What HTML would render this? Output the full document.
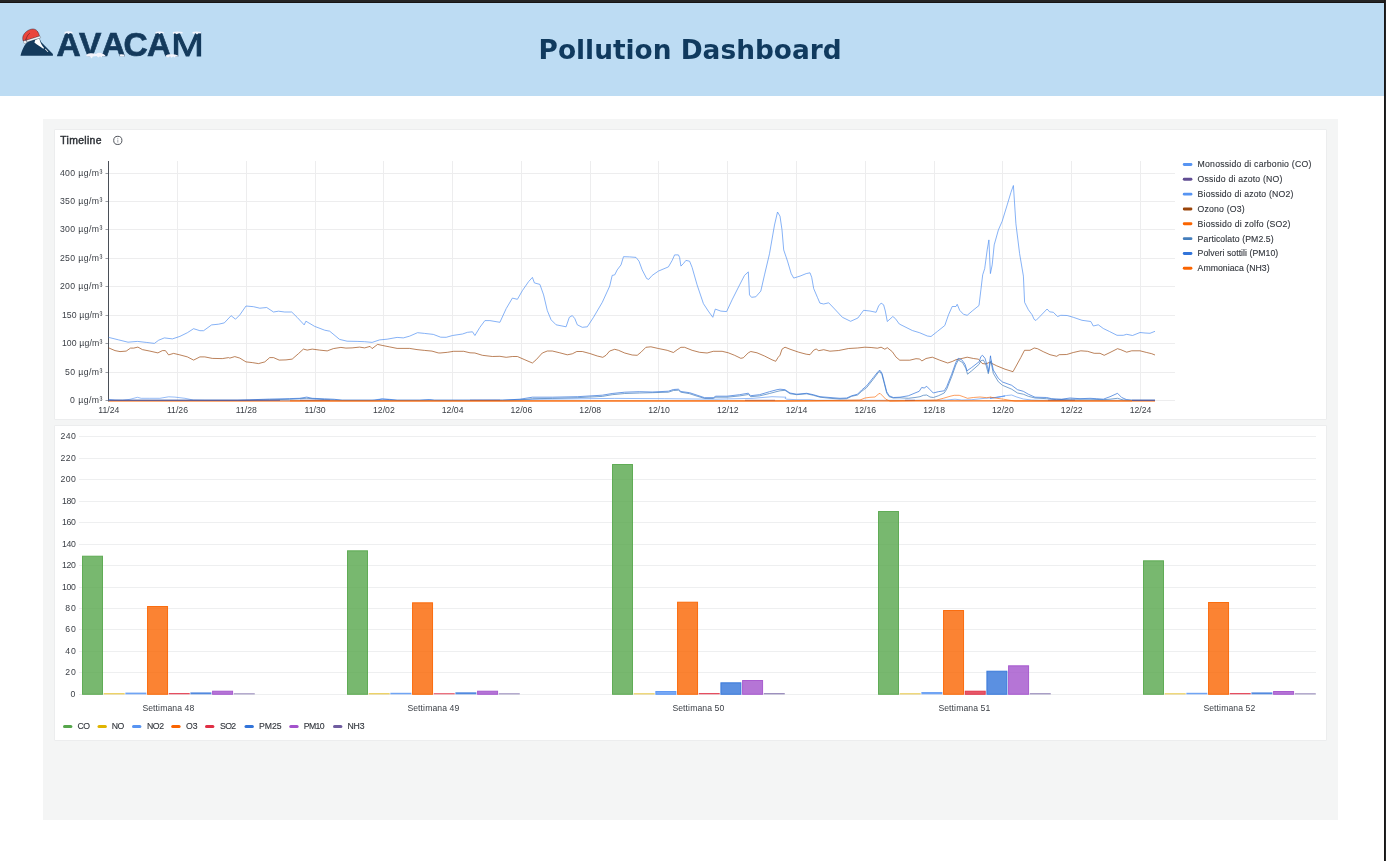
<!DOCTYPE html>
<html lang="it">
<head>
<meta charset="utf-8">
<title>Pollution Dashboard</title>
<style>
html,body{margin:0;padding:0;}
body{width:1386px;height:861px;overflow:hidden;background:#fff;position:relative;font-family:"Liberation Sans",sans-serif;}
.topbar{position:absolute;left:0;top:0;width:1386px;height:3px;background:#242424;border-bottom:1px solid #161414;box-sizing:border-box;}
.rightbar{position:absolute;left:1384px;top:0;width:2px;height:861px;background:#242424;border-left:1px solid #171515;box-sizing:border-box;}
.header{position:absolute;left:0;top:3px;width:1384px;height:93px;background:#bddcf3;}
.title{position:absolute;left:538.6px;top:31px;font-family:"DejaVu Sans",sans-serif;font-weight:bold;font-size:26.4px;line-height:32px;color:#103a5e;white-space:nowrap;}
.logo{position:absolute;left:0;top:0;}
.canvas{position:absolute;left:43px;top:119px;width:1295px;height:701px;background:#f4f5f5;}
.panel{position:absolute;background:#fff;border:1px solid #ecedee;box-sizing:border-box;border-radius:1px;}
#p1{left:54px;top:129px;width:1273px;height:291px;}
#p2{left:54px;top:425px;width:1273px;height:316px;}
.ptitle{position:absolute;left:60.3px;top:134px;font-size:10.4px;line-height:14px;font-weight:normal;color:#2b2f35;letter-spacing:0.33px;-webkit-text-stroke:0.42px #2b2f35;}
svg{position:absolute;left:0;top:0;}
#charts text{font-family:"Liberation Sans",sans-serif;fill:#3c4047;}
#charts .ay{font-size:8.7px;}
#charts .ad{font-size:8.7px;letter-spacing:0px;}
#charts .by{font-size:8.7px;}
#charts .bx{font-size:8.65px;letter-spacing:0.1px;}
#charts .lg{font-size:8.7px;fill:#32363d;stroke:#32363d;stroke-width:0.12px;}
</style>
</head>
<body>
<div class="header">
  <div class="title">Pollution Dashboard</div>
</div>
<div class="topbar"></div>
<div class="rightbar"></div>
<svg class="logo" width="230" height="70" viewBox="0 0 230 70">
<g id="mountain">
<path d="M20.5 55.7 C21.2 52.6 22.6 48.9 24.4 45.8 C25.4 44.2 26.6 42.8 28.0 41.8 L33.0 39.8 L39.6 38.6 L41.1 42.0 L52.9 53.9 L52.9 55.7 Z" fill="#143a5c"/>
<path d="M34.4 42.4 L35.4 39.8 L39.4 38.4 C40.0 42.4 41.8 45.2 44.1 47.9 L43.3 48.7 C40.6 46.8 37.2 44.6 34.4 42.4 Z" fill="#ffffff"/>
<path d="M44.8 49.0 L45.7 48.8 L48.3 51.7 L47.6 52.0 Z" fill="#ffffff"/>
</g>
<g id="hat">
<path d="M23.2 41.0 C22.6 39.4 22.6 37.6 23.0 36.2 C23.6 34.4 24.8 32.8 26.6 31.4 C28.4 30.0 30.6 29.1 32.6 29.0 C34.4 28.9 36.0 29.6 37.2 31.0 C38.4 32.4 39.1 34.2 39.5 36.2 L26.6 40.4 Z" fill="#ea453b" stroke="#2a1a2a" stroke-width="0.45"/>
<path d="M29.9 33.1 C28.0 34.4 26.6 36.6 26.0 39.8" fill="none" stroke="#4a1a28" stroke-width="0.55"/>
<path d="M25.6 38.2 L26.4 40.2 L25.6 40.6 Z" fill="#143a5c"/>
<path d="M26.7 40.2 L40.1 36.1 L40.7 37.8 L26.8 42.0 Z" fill="#ffffff" stroke="#1f2a3a" stroke-width="0.3" stroke-linejoin="round"/>
<circle cx="25.0" cy="42.0" r="1.5" fill="#ffffff" stroke="#1f2a3a" stroke-width="0.3"/>
</g>
<g id="word" font-family="'Liberation Sans', sans-serif" font-weight="bold" font-size="33.5" fill="#143a5c" stroke="#143a5c" stroke-width="0.7" stroke-linejoin="miter">
<text x="56.4" y="55.7">A</text>
<text x="79.1" y="55.7">V</text>
<text x="101.2" y="55.7">A</text>
<text x="123.5" y="55.7">C</text>
<text x="147.0" y="55.7">A</text>
<text transform="translate(171.2 55.7) scale(1.165 1)" x="0" y="0" font-weight="normal" stroke-width="1.0">M</text>
</g>
<g id="snow" fill="#f4f4fb">
<path d="M64.5 32.0 Q68.4 30.6 72.5 32.0 L72.3 33.7 L70.0 33.0 L68.6 34.2 L67.0 33.0 L64.8 33.9 Z"/>
<path d="M86.0 55.2 Q88.0 52.8 91.0 53.2 Q93.5 53.0 96.0 54.0 Q98.0 52.4 100.6 53.0 Q103.6 53.6 105.6 55.4 L104.0 56.4 L102.6 56.0 L101.4 57.6 L100.2 56.2 L98.2 57.4 L96.6 56.0 L93.0 56.4 L91.6 58.6 L90.0 56.4 L87.4 56.6 Z"/>
<path d="M110.4 45.0 L115.4 45.0 L115.0 45.8 L112.8 45.6 L112.4 46.2 L111.6 45.6 L110.6 45.7 Z" opacity="0.8"/>
<path d="M119.4 54.6 Q122.0 54.0 124.4 54.8 L124.6 56.2 Q122.0 57.0 119.8 56.2 Z"/>
<path d="M155.4 32.0 Q159.6 30.8 163.7 32.0 L163.5 33.6 L161.0 33.0 L159.6 34.2 L158.0 33.0 L155.8 33.8 Z"/>
<path d="M172.8 32.0 Q177.6 30.8 182.6 32.0 L182.4 33.6 L179.0 33.2 L176.6 34.2 L175.0 33.2 L173.0 34.0 Z"/>
<path d="M192.4 32.0 Q196.6 30.8 201.0 32.0 L200.8 33.6 L198.6 33.2 L197.0 34.6 L195.6 33.2 L192.8 33.8 Z"/>
<path d="M165.8 55.6 Q168.0 53.8 171.0 54.2 Q174.6 54.0 178.0 55.4 L177.6 56.8 L175.8 56.4 L174.6 57.6 L173.2 56.6 L171.6 57.8 L170.2 56.4 L168.0 57.4 L166.4 57.0 Z"/>
</g>
</svg>

<div class="canvas"></div>
<div class="panel" id="p1"></div>
<div class="panel" id="p2"></div>
<div class="ptitle">Timeline</div>
<svg id="charts" width="1386" height="861" viewBox="0 0 1386 861">
<g id="timeline">
<circle cx="117.8" cy="140.4" r="4.1" fill="none" stroke="#50545b" stroke-width="1"/>
<line x1="117.8" y1="139.6" x2="117.8" y2="142.6" stroke="#8a8e96" stroke-width="0.8"/>
<circle cx="117.8" cy="138.2" r="0.5" fill="#8a8e96"/>
<line x1="109" y1="400.5" x2="1175" y2="400.5" stroke="#ededee" stroke-width="1"/>
<line x1="105.5" y1="400.5" x2="108" y2="400.5" stroke="#9a9da3" stroke-width="1"/>
<text x="70.1" y="403.4" class="ay" textLength="32.2">0 µg/m³</text>
<line x1="109" y1="372.5" x2="1175" y2="372.5" stroke="#ededee" stroke-width="1"/>
<line x1="105.5" y1="372.5" x2="108" y2="372.5" stroke="#9a9da3" stroke-width="1"/>
<text x="65.0" y="375.4" class="ay" textLength="37.3">50 µg/m³</text>
<line x1="109" y1="343.5" x2="1175" y2="343.5" stroke="#ededee" stroke-width="1"/>
<line x1="105.5" y1="343.5" x2="108" y2="343.5" stroke="#9a9da3" stroke-width="1"/>
<text x="61.9" y="346.4" class="ay" textLength="40.4">100 µg/m³</text>
<line x1="109" y1="315.5" x2="1175" y2="315.5" stroke="#ededee" stroke-width="1"/>
<line x1="105.5" y1="315.5" x2="108" y2="315.5" stroke="#9a9da3" stroke-width="1"/>
<text x="61.9" y="318.4" class="ay" textLength="40.4">150 µg/m³</text>
<line x1="109" y1="286.5" x2="1175" y2="286.5" stroke="#ededee" stroke-width="1"/>
<line x1="105.5" y1="286.5" x2="108" y2="286.5" stroke="#9a9da3" stroke-width="1"/>
<text x="59.9" y="289.4" class="ay" textLength="42.4">200 µg/m³</text>
<line x1="109" y1="258.5" x2="1175" y2="258.5" stroke="#ededee" stroke-width="1"/>
<line x1="105.5" y1="258.5" x2="108" y2="258.5" stroke="#9a9da3" stroke-width="1"/>
<text x="59.9" y="261.4" class="ay" textLength="42.4">250 µg/m³</text>
<line x1="109" y1="229.5" x2="1175" y2="229.5" stroke="#ededee" stroke-width="1"/>
<line x1="105.5" y1="229.5" x2="108" y2="229.5" stroke="#9a9da3" stroke-width="1"/>
<text x="59.9" y="232.4" class="ay" textLength="42.4">300 µg/m³</text>
<line x1="109" y1="201.5" x2="1175" y2="201.5" stroke="#ededee" stroke-width="1"/>
<line x1="105.5" y1="201.5" x2="108" y2="201.5" stroke="#9a9da3" stroke-width="1"/>
<text x="59.9" y="204.4" class="ay" textLength="42.4">350 µg/m³</text>
<line x1="109" y1="173.5" x2="1175" y2="173.5" stroke="#ededee" stroke-width="1"/>
<line x1="105.5" y1="173.5" x2="108" y2="173.5" stroke="#9a9da3" stroke-width="1"/>
<text x="59.9" y="176.4" class="ay" textLength="42.4">400 µg/m³</text>
<text x="108.8" y="412.6" text-anchor="middle" class="ad">11/24</text>
<line x1="177.5" y1="161" x2="177.5" y2="401" stroke="#ededee" stroke-width="1"/>
<text x="177.5" y="412.6" text-anchor="middle" class="ad">11/26</text>
<line x1="246.5" y1="161" x2="246.5" y2="401" stroke="#ededee" stroke-width="1"/>
<text x="246.3" y="412.6" text-anchor="middle" class="ad">11/28</text>
<line x1="315.5" y1="161" x2="315.5" y2="401" stroke="#ededee" stroke-width="1"/>
<text x="315.1" y="412.6" text-anchor="middle" class="ad">11/30</text>
<line x1="383.5" y1="161" x2="383.5" y2="401" stroke="#ededee" stroke-width="1"/>
<text x="383.9" y="412.6" text-anchor="middle" class="ad">12/02</text>
<line x1="452.5" y1="161" x2="452.5" y2="401" stroke="#ededee" stroke-width="1"/>
<text x="452.6" y="412.6" text-anchor="middle" class="ad">12/04</text>
<line x1="521.5" y1="161" x2="521.5" y2="401" stroke="#ededee" stroke-width="1"/>
<text x="521.4" y="412.6" text-anchor="middle" class="ad">12/06</text>
<line x1="590.5" y1="161" x2="590.5" y2="401" stroke="#ededee" stroke-width="1"/>
<text x="590.2" y="412.6" text-anchor="middle" class="ad">12/08</text>
<line x1="658.5" y1="161" x2="658.5" y2="401" stroke="#ededee" stroke-width="1"/>
<text x="659.0" y="412.6" text-anchor="middle" class="ad">12/10</text>
<line x1="727.5" y1="161" x2="727.5" y2="401" stroke="#ededee" stroke-width="1"/>
<text x="727.8" y="412.6" text-anchor="middle" class="ad">12/12</text>
<line x1="796.5" y1="161" x2="796.5" y2="401" stroke="#ededee" stroke-width="1"/>
<text x="796.5" y="412.6" text-anchor="middle" class="ad">12/14</text>
<line x1="865.5" y1="161" x2="865.5" y2="401" stroke="#ededee" stroke-width="1"/>
<text x="865.3" y="412.6" text-anchor="middle" class="ad">12/16</text>
<line x1="934.5" y1="161" x2="934.5" y2="401" stroke="#ededee" stroke-width="1"/>
<text x="934.1" y="412.6" text-anchor="middle" class="ad">12/18</text>
<line x1="1002.5" y1="161" x2="1002.5" y2="401" stroke="#ededee" stroke-width="1"/>
<text x="1002.9" y="412.6" text-anchor="middle" class="ad">12/20</text>
<line x1="1071.5" y1="161" x2="1071.5" y2="401" stroke="#ededee" stroke-width="1"/>
<text x="1071.7" y="412.6" text-anchor="middle" class="ad">12/22</text>
<line x1="1140.5" y1="161" x2="1140.5" y2="401" stroke="#ededee" stroke-width="1"/>
<text x="1140.5" y="412.6" text-anchor="middle" class="ad">12/24</text>
<line x1="108.5" y1="161" x2="108.5" y2="401.5" stroke="#4a4f57" stroke-width="1"/>
<path d="M108.7 337.4 L118.7 339.9 L128.0 342.2 L137.4 341.4 L146.2 342.4 L154.4 343.4 L158.7 340.2 L164.4 337.9 L172.4 338.9 L179.9 336.4 L187.4 332.7 L193.6 328.7 L199.9 330.7 L203.6 330.7 L211.6 324.9 L218.6 324.2 L224.3 322.9 L231.1 315.7 L235.5 319.2 L239.8 314.9 L246.0 306.0 L253.5 306.7 L259.8 308.2 L266.7 307.5 L273.5 312.0 L278.5 311.2 L284.7 312.0 L291.7 312.0 L297.2 317.4 L304.2 324.9 L305.9 321.2 L314.7 326.4 L324.7 330.2 L329.7 331.2 L339.6 339.4 L347.1 341.2 L357.1 341.4 L364.6 341.7 L372.1 342.4 L379.6 339.9 L387.1 339.2 L397.1 337.4 L403.3 337.9 L409.5 336.2 L417.5 332.7 L424.5 333.4 L433.3 334.4 L440.7 337.2 L446.2 337.3 L452.5 335.5 L462.5 334.0 L467.5 332.3 L472.5 331.8 L474.9 335.5 L479.9 327.3 L484.9 320.6 L489.9 320.6 L499.9 322.3 L506.2 308.6 L512.4 298.1 L517.4 299.3 L522.4 290.6 L528.6 281.6 L532.4 277.4 L534.4 282.9 L539.9 284.4 L543.6 294.9 L547.3 310.6 L551.1 319.8 L556.1 324.8 L566.1 326.8 L569.3 317.3 L572.3 315.6 L574.8 318.6 L577.3 324.8 L582.3 327.3 L587.3 326.8 L593.5 317.3 L602.3 302.3 L609.7 286.1 L612.2 275.4 L614.7 274.9 L617.2 269.9 L621.0 264.9 L623.5 256.7 L629.7 256.9 L636.0 257.4 L639.0 261.2 L642.2 269.9 L646.7 278.6 L648.7 279.4 L652.2 275.4 L658.4 271.1 L668.4 266.9 L672.2 260.4 L674.6 254.9 L678.4 254.9 L679.6 257.4 L680.9 266.1 L683.4 263.6 L685.9 260.4 L689.6 261.2 L692.1 267.4 L697.1 284.9 L703.4 303.6 L708.3 311.1 L712.8 317.3 L715.3 309.1 L720.8 311.1 L726.6 311.6 L732.1 299.8 L739.6 284.9 L744.5 275.4 L748.3 271.9 L749.5 294.9 L751.5 297.3 L755.8 296.8 L760.8 291.1 L764.5 274.9 L769.5 253.7 L774.5 225.0 L777.5 212.0 L780.0 216.2 L780.0 216.2 L782.0 229.9 L783.7 249.9 L787.5 261.1 L791.2 273.6 L793.7 278.1 L800.0 276.1 L806.2 273.6 L810.0 272.8 L811.7 277.3 L813.7 288.6 L817.4 297.3 L819.9 303.1 L823.7 304.0 L828.7 302.8 L833.7 308.0 L842.4 317.3 L850.6 321.3 L857.9 318.0 L863.6 310.3 L869.9 311.0 L876.1 312.3 L878.6 306.0 L881.1 303.1 L883.6 304.8 L885.3 311.0 L887.3 321.5 L892.8 316.5 L895.3 318.5 L899.3 324.0 L912.3 330.5 L919.8 332.8 L927.3 336.0 L931.0 336.5 L937.3 331.5 L944.8 325.5 L948.5 314.8 L952.2 306.5 L956.0 306.5 L957.2 304.3 L959.7 310.3 L963.5 314.3 L967.2 315.3 L972.2 311.0 L979.0 305.5 L980.9 289.8 L982.7 274.8 L984.7 268.6 L987.2 249.9 L988.9 239.9 L990.4 273.6 L992.2 264.9 L994.2 244.9 L998.4 229.9 L1002.2 221.2 L1007.2 204.9 L1010.9 192.5 L1013.4 185.5 L1015.9 223.7 L1019.6 253.6 L1023.4 276.1 L1024.6 302.3 L1028.4 309.8 L1032.1 314.8 L1034.1 319.3 L1035.9 320.5 L1039.6 316.8 L1047.1 309.0 L1049.6 311.8 L1053.3 312.3 L1057.6 316.5 L1060.8 315.3 L1067.1 315.5 L1073.3 317.3 L1082.0 320.3 L1090.8 321.5 L1093.3 326.0 L1098.3 324.8 L1103.3 328.5 L1109.5 331.5 L1117.0 335.3 L1123.2 335.3 L1123.3 335.3 L1126.7 334.3 L1132.5 335.5 L1140.0 332.5 L1145.0 333.0 L1150.0 333.3 L1155.0 331.3" fill="none" stroke="#5794F2" stroke-width="0.9" stroke-linejoin="round" opacity="0.8"/>
<path d="M108.7 399.3 L115.0 400.1 L122.5 400.3 L130.0 399.3 L137.4 397.3 L141.2 398.3 L149.9 398.3 L159.9 398.3 L168.6 396.8 L174.9 397.1 L184.9 398.3 L193.6 400.1 L204.8 400.3 L372.1 400.3 L382.1 398.8 L389.6 399.3 L397.1 400.3 L407.0 400.3 L419.5 400.3 L429.5 399.6 L434.5 400.3 L446.0 400.3 L502.4 400.3 L539.9 399.2 L614.7 398.4 L664.7 398.7 L714.6 399.2 L752.0 398.4 L772.0 396.7 L786.0 397.2 L785.0 398.3 L786.7 399.2 L796.7 399.7 L810.0 399.7 L816.7 400.3 L930.0 400.3 L946.7 400.0 L955.0 399.2 L961.7 400.0 L971.7 399.7 L985.0 398.3 L996.7 397.5 L1005.0 396.0 L990.0 398.3 L998.3 397.0 L1006.7 395.5 L1011.7 395.0 L1016.7 397.0 L1023.3 399.0 L1031.7 400.0 L1040.0 400.3 L1155.0 400.3" fill="none" stroke="#5794F2" stroke-width="0.9" stroke-linejoin="round" opacity="0.7"/>
<path d="M108.7 347.9 L115.0 350.6 L120.0 351.6 L126.2 351.1 L130.5 348.1 L133.7 348.1 L137.9 347.1 L142.4 349.6 L149.9 351.1 L157.9 352.9 L162.4 350.6 L165.4 350.6 L168.6 354.9 L173.6 353.4 L179.9 354.9 L187.4 356.9 L193.6 360.1 L199.9 356.9 L204.8 356.9 L212.3 358.4 L222.3 358.6 L228.6 357.6 L229.8 358.1 L234.8 356.6 L239.8 358.1 L246.0 361.9 L252.3 362.6 L258.5 363.6 L264.8 361.9 L269.7 357.6 L273.5 357.6 L279.2 360.1 L286.0 359.9 L292.2 359.1 L298.5 353.6 L303.4 349.1 L307.2 350.1 L312.2 349.1 L319.7 350.1 L327.2 350.9 L333.4 348.6 L340.9 347.4 L345.9 348.1 L352.1 347.9 L359.6 347.1 L364.6 347.9 L370.1 346.4 L372.1 348.6 L377.6 344.4 L382.1 345.4 L389.6 346.9 L397.1 348.4 L409.5 348.4 L417.0 349.6 L424.5 350.4 L432.0 351.1 L438.2 352.9 L440.0 353.0 L447.5 352.3 L453.7 351.3 L463.7 351.3 L470.0 352.8 L474.9 353.0 L482.4 355.3 L492.4 356.5 L499.9 356.3 L506.2 357.3 L512.4 356.5 L517.4 356.5 L524.9 359.8 L532.4 363.0 L536.1 359.8 L542.3 353.0 L547.3 351.0 L552.3 351.0 L559.8 352.8 L567.3 354.8 L572.3 353.8 L576.8 351.5 L582.3 351.5 L589.8 353.5 L597.3 356.0 L602.8 357.3 L606.0 355.3 L609.7 351.0 L614.7 349.3 L618.5 350.3 L624.7 353.0 L632.2 355.0 L637.2 355.3 L640.9 352.3 L645.9 347.3 L650.9 346.8 L658.4 348.5 L667.2 350.3 L673.4 352.5 L677.1 349.8 L680.9 347.3 L684.6 347.3 L692.1 350.3 L699.6 352.3 L707.1 353.0 L713.3 351.3 L722.1 351.3 L728.3 352.8 L734.6 355.3 L740.8 358.3 L743.3 357.8 L748.3 352.8 L750.8 351.5 L757.0 352.8 L764.5 356.0 L772.0 359.8 L775.7 361.3 L778.2 357.3 L780.0 355.2 L782.0 349.2 L785.0 347.2 L790.0 349.2 L798.7 352.2 L806.2 354.2 L810.0 354.7 L813.7 350.2 L816.2 349.0 L818.7 350.7 L823.7 349.7 L829.9 351.2 L838.7 350.5 L848.6 348.5 L857.4 348.0 L864.9 347.2 L871.1 347.5 L877.4 348.2 L881.1 347.2 L884.8 349.2 L887.3 347.7 L892.3 351.7 L896.1 357.2 L899.8 360.2 L909.8 360.2 L916.0 358.7 L919.8 359.0 L921.8 361.0 L926.0 358.5 L932.3 357.2 L939.8 360.2 L947.7 363.0 L952.2 361.5 L956.0 359.7 L959.7 359.0 L967.2 357.2 L973.5 358.5 L978.5 359.2 L982.2 363.5 L985.9 364.0 L989.7 362.2 L990.0 362.5 L996.7 365.8 L1005.0 369.2 L1013.0 371.7 L1016.7 365.0 L1020.8 357.5 L1024.5 350.3 L1030.0 350.3 L1034.2 348.0 L1037.5 348.7 L1043.3 351.7 L1050.0 354.7 L1056.7 356.3 L1059.2 354.7 L1066.7 354.5 L1073.3 352.5 L1080.8 350.8 L1087.5 351.3 L1094.2 353.3 L1100.0 353.3 L1104.2 355.3 L1110.0 352.5 L1117.5 348.7 L1120.8 349.7 L1126.7 352.2 L1131.7 350.8 L1140.0 350.8 L1146.7 352.5 L1151.7 353.7 L1155.0 355.0" fill="none" stroke="#99440A" stroke-width="0.9" stroke-linejoin="round" opacity="0.75"/>
<path d="M108.7 401.1 L446.0 401.1 L465.0 401.1 L786.0 401.1 L790.0 401.1 L860.0 400.0 L865.0 398.0 L870.0 397.3 L875.0 397.0 L878.3 394.2 L880.0 393.3 L882.5 395.8 L885.8 399.2 L890.0 401.1 L936.7 400.0 L943.3 398.3 L950.0 396.3 L954.2 395.3 L959.2 395.3 L963.3 396.7 L967.5 398.3 L973.3 397.5 L980.0 397.0 L986.7 397.7 L990.3 397.2 L990.0 397.0 L995.0 398.0 L1003.3 399.2 L1015.0 401.1 L1155.0 401.1" fill="none" stroke="#FA6400" stroke-width="0.9" stroke-linejoin="round" opacity="0.7"/>
<path d="M108.7 400.3 L234.8 400.3 L249.8 400.3 L269.7 399.8 L289.7 399.3 L306.7 398.3 L324.7 399.6 L342.1 400.3 L446.0 400.3 L502.4 400.3 L519.9 399.9 L532.4 398.7 L552.3 398.4 L577.3 397.7 L602.3 396.4 L612.2 394.7 L624.7 393.5 L639.7 393.0 L652.2 392.7 L668.4 392.2 L673.4 390.5 L678.4 390.2 L680.9 392.2 L689.6 393.7 L697.1 396.2 L704.6 398.4 L713.3 398.4 L715.8 397.2 L727.1 397.2 L739.6 395.9 L748.3 394.5 L750.8 396.7 L759.5 395.9 L769.5 393.5 L777.0 391.5 L780.0 390.8 L785.0 390.3 L790.0 393.7 L796.7 394.7 L806.7 393.8 L813.3 395.3 L820.0 397.2 L830.0 398.3 L840.0 399.0 L846.7 398.7 L851.7 396.3 L857.5 395.0 L861.7 391.3 L866.7 387.5 L873.3 379.2 L878.3 372.5 L880.0 371.7 L882.0 374.7 L884.2 383.3 L886.7 393.0 L889.2 396.7 L893.3 398.0 L900.0 397.8 L908.3 398.3 L915.0 397.5 L920.0 396.7 L923.3 395.3 L926.7 395.0 L930.0 397.0 L933.3 397.5 L938.3 395.8 L944.2 393.0 L946.7 389.2 L951.7 376.7 L955.8 365.0 L958.3 360.0 L962.5 362.5 L965.8 368.3 L967.5 374.2 L971.7 370.8 L979.2 364.2 L980.8 360.8 L983.3 360.0 L985.8 364.2 L988.3 373.7 L989.7 365.8 L990.8 360.8 L991.3 363.3 L993.3 373.3 L998.3 381.7 L1002.5 385.3 L1011.7 389.2 L1017.5 393.0 L1023.3 394.2 L1028.3 396.3 L1035.0 398.0 L1046.7 398.7 L1056.7 399.7 L1070.0 399.2 L1090.0 399.2 L1103.3 399.7 L1110.0 399.2 L1117.5 398.3 L1123.3 400.0 L1131.7 400.3 L1155.0 400.3" fill="none" stroke="#447EBC" stroke-width="0.9" stroke-linejoin="round" opacity="0.8"/>
<path d="M108.7 400.3 L224.8 400.3 L237.3 400.3 L249.8 399.8 L269.7 399.1 L289.7 398.6 L299.7 398.3 L306.7 397.1 L312.2 398.3 L324.7 398.8 L334.6 399.3 L342.1 400.3 L374.6 400.3 L382.1 399.1 L389.6 399.6 L397.1 400.3 L419.5 400.3 L429.5 399.8 L434.5 400.3 L446.0 400.3 L502.4 400.2 L519.9 399.2 L532.4 397.2 L552.3 397.2 L577.3 396.7 L602.3 395.2 L612.2 393.5 L624.7 392.2 L639.7 391.7 L652.2 392.0 L668.4 391.2 L673.4 389.5 L678.4 389.2 L680.9 391.5 L689.6 392.7 L697.1 395.2 L704.6 397.7 L713.3 397.7 L715.8 396.2 L727.1 396.2 L739.6 394.7 L748.3 393.2 L750.8 395.7 L759.5 394.7 L769.5 391.7 L777.0 389.7 L780.0 389.2 L785.0 389.7 L790.0 393.0 L796.7 394.2 L806.7 393.3 L813.3 394.7 L820.0 396.7 L830.0 397.5 L840.0 398.3 L846.7 398.0 L851.7 395.8 L857.5 394.2 L861.7 390.0 L866.7 385.8 L873.3 377.5 L878.3 371.3 L880.0 370.3 L882.0 373.3 L884.2 381.7 L886.7 391.7 L889.2 395.8 L893.3 397.5 L900.0 397.2 L908.3 395.8 L915.0 393.0 L919.2 391.3 L921.7 387.5 L924.2 388.0 L926.7 386.3 L930.0 389.7 L933.3 393.0 L938.3 391.7 L944.2 390.8 L946.7 386.7 L951.7 374.2 L955.8 362.5 L958.3 358.3 L961.7 359.7 L965.0 364.2 L967.0 370.8 L971.7 367.5 L979.2 361.7 L980.8 356.7 L982.5 355.3 L985.0 358.3 L987.5 366.7 L988.7 371.7 L989.7 361.7 L990.5 355.8 L990.8 358.3 L993.3 370.0 L998.3 378.3 L1002.5 382.0 L1011.7 385.3 L1017.5 389.7 L1023.3 391.3 L1028.3 394.2 L1035.0 397.2 L1046.7 397.5 L1051.7 398.7 L1061.7 399.2 L1070.0 398.0 L1080.0 398.7 L1090.0 398.3 L1096.7 398.7 L1103.3 399.2 L1110.0 396.7 L1117.5 393.3 L1121.7 397.5 L1126.7 399.7 L1131.7 400.3 L1155.0 400.3" fill="none" stroke="#3274D9" stroke-width="0.9" stroke-linejoin="round" opacity="0.8"/>
<path d="M109 400.3H280 M300 400.3H330 M470 400.3H500 M745 400.3H775 M905 400.3H915 M1048 400.3H1075 M1132 400.3H1155" fill="none" stroke="#4a3f8a" stroke-width="0.8" opacity="0.9"/>
<line x1="109" y1="401.1" x2="290" y2="401.1" stroke="#FA6400" stroke-width="0.9" opacity="0.45"/>
<line x1="290" y1="400.8" x2="1132" y2="400.8" stroke="#FA6400" stroke-width="1.3" opacity="0.9"/>
<line x1="1132" y1="401.1" x2="1155" y2="401.1" stroke="#FA6400" stroke-width="0.9" opacity="0.45"/>
<rect x="1182.8" y="163.0" width="9.6" height="2.9" rx="1.4" fill="#5794F2"/>
<text x="1197.6" y="167.3" class="lg" textLength="113.7">Monossido di carbonio (CO)</text>
<rect x="1182.8" y="177.8" width="9.6" height="2.9" rx="1.4" fill="#614D93"/>
<text x="1197.6" y="182.1" class="lg" textLength="84.8">Ossido di azoto (NO)</text>
<rect x="1182.8" y="192.7" width="9.6" height="2.9" rx="1.4" fill="#5794F2"/>
<text x="1197.6" y="197.0" class="lg" textLength="95.7">Biossido di azoto (NO2)</text>
<rect x="1182.8" y="207.5" width="9.6" height="2.9" rx="1.4" fill="#99440A"/>
<text x="1197.6" y="211.8" class="lg" textLength="47.1">Ozono (O3)</text>
<rect x="1182.8" y="222.3" width="9.6" height="2.9" rx="1.4" fill="#FA6400"/>
<text x="1197.6" y="226.6" class="lg" textLength="92.8">Biossido di zolfo (SO2)</text>
<rect x="1182.8" y="237.2" width="9.6" height="2.9" rx="1.4" fill="#447EBC"/>
<text x="1197.6" y="241.5" class="lg" textLength="76.1">Particolato (PM2.5)</text>
<rect x="1182.8" y="252.0" width="9.6" height="2.9" rx="1.4" fill="#3274D9"/>
<text x="1197.6" y="256.3" class="lg" textLength="80.6">Polveri sottili (PM10)</text>
<rect x="1182.8" y="266.8" width="9.6" height="2.9" rx="1.4" fill="#FA6400"/>
<text x="1197.6" y="271.1" class="lg" textLength="72.0">Ammoniaca (NH3)</text>
</g>
<g id="bars">
<line x1="79" y1="694.5" x2="1316" y2="694.5" stroke="#eeeff0" stroke-width="1"/>
<text x="70.5" y="697.4" class="by" textLength="5.3">0</text>
<line x1="79" y1="672.5" x2="1316" y2="672.5" stroke="#eeeff0" stroke-width="1"/>
<text x="65.3" y="675.4" class="by" textLength="10.5">20</text>
<line x1="79" y1="651.5" x2="1316" y2="651.5" stroke="#eeeff0" stroke-width="1"/>
<text x="65.3" y="654.4" class="by" textLength="10.5">40</text>
<line x1="79" y1="629.5" x2="1316" y2="629.5" stroke="#eeeff0" stroke-width="1"/>
<text x="65.3" y="632.4" class="by" textLength="10.5">60</text>
<line x1="79" y1="608.5" x2="1316" y2="608.5" stroke="#eeeff0" stroke-width="1"/>
<text x="65.3" y="611.4" class="by" textLength="10.5">80</text>
<line x1="79" y1="587.5" x2="1316" y2="587.5" stroke="#eeeff0" stroke-width="1"/>
<text x="61.9" y="590.4" class="by" textLength="13.9">100</text>
<line x1="79" y1="565.5" x2="1316" y2="565.5" stroke="#eeeff0" stroke-width="1"/>
<text x="61.9" y="568.4" class="by" textLength="13.9">120</text>
<line x1="79" y1="544.5" x2="1316" y2="544.5" stroke="#eeeff0" stroke-width="1"/>
<text x="61.9" y="547.4" class="by" textLength="13.9">140</text>
<line x1="79" y1="522.5" x2="1316" y2="522.5" stroke="#eeeff0" stroke-width="1"/>
<text x="61.9" y="525.4" class="by" textLength="13.9">160</text>
<line x1="79" y1="501.5" x2="1316" y2="501.5" stroke="#eeeff0" stroke-width="1"/>
<text x="61.9" y="504.4" class="by" textLength="13.9">180</text>
<line x1="79" y1="479.5" x2="1316" y2="479.5" stroke="#eeeff0" stroke-width="1"/>
<text x="60.4" y="482.4" class="by" textLength="15.4">200</text>
<line x1="79" y1="458.5" x2="1316" y2="458.5" stroke="#eeeff0" stroke-width="1"/>
<text x="60.4" y="461.4" class="by" textLength="15.4">220</text>
<line x1="79" y1="436.5" x2="1316" y2="436.5" stroke="#eeeff0" stroke-width="1"/>
<text x="60.4" y="439.4" class="by" textLength="15.4">240</text>
<rect x="82.50" y="556.2" width="20" height="138.1" fill="#56A64B" fill-opacity="0.8" stroke="#56A64B" stroke-width="1" stroke-opacity="0.9"/>
<rect x="103.68" y="693.3" width="21" height="1.0" fill="#E0B400" fill-opacity="0.85"/>
<rect x="125.36" y="692.6" width="21" height="1.7" fill="#5794F2" fill-opacity="0.85"/>
<rect x="147.54" y="606.5" width="20" height="87.8" fill="#FA6400" fill-opacity="0.8" stroke="#FA6400" stroke-width="1" stroke-opacity="0.9"/>
<rect x="168.72" y="693.0" width="21" height="1.3" fill="#E02F44" fill-opacity="0.85"/>
<rect x="190.40" y="692.4" width="21" height="1.9" fill="#3274D9" fill-opacity="0.85"/>
<rect x="212.58" y="691.2" width="20" height="3.1" fill="#A352CC" fill-opacity="0.8" stroke="#A352CC" stroke-width="1" stroke-opacity="0.9"/>
<rect x="233.76" y="693.4" width="21" height="0.9" fill="#705DA0" fill-opacity="0.85"/>
<text x="168.4" y="710.6" text-anchor="middle" class="bx">Settimana 48</text>
<rect x="347.50" y="550.8" width="20" height="143.5" fill="#56A64B" fill-opacity="0.8" stroke="#56A64B" stroke-width="1" stroke-opacity="0.9"/>
<rect x="368.68" y="693.3" width="21" height="1.0" fill="#E0B400" fill-opacity="0.85"/>
<rect x="390.36" y="692.8" width="21" height="1.5" fill="#5794F2" fill-opacity="0.85"/>
<rect x="412.54" y="602.8" width="20" height="91.5" fill="#FA6400" fill-opacity="0.8" stroke="#FA6400" stroke-width="1" stroke-opacity="0.9"/>
<rect x="433.72" y="693.2" width="21" height="1.1" fill="#E02F44" fill-opacity="0.85"/>
<rect x="455.40" y="692.3" width="21" height="2.0" fill="#3274D9" fill-opacity="0.85"/>
<rect x="477.58" y="691.2" width="20" height="3.1" fill="#A352CC" fill-opacity="0.8" stroke="#A352CC" stroke-width="1" stroke-opacity="0.9"/>
<rect x="498.76" y="693.4" width="21" height="0.9" fill="#705DA0" fill-opacity="0.85"/>
<text x="433.4" y="710.6" text-anchor="middle" class="bx">Settimana 49</text>
<rect x="612.50" y="464.5" width="20" height="229.8" fill="#56A64B" fill-opacity="0.8" stroke="#56A64B" stroke-width="1" stroke-opacity="0.9"/>
<rect x="633.68" y="693.4" width="21" height="0.9" fill="#E0B400" fill-opacity="0.85"/>
<rect x="655.86" y="691.5" width="20" height="2.8" fill="#5794F2" fill-opacity="0.8" stroke="#5794F2" stroke-width="1" stroke-opacity="0.9"/>
<rect x="677.54" y="602.2" width="20" height="92.1" fill="#FA6400" fill-opacity="0.8" stroke="#FA6400" stroke-width="1" stroke-opacity="0.9"/>
<rect x="698.72" y="693.0" width="21" height="1.3" fill="#E02F44" fill-opacity="0.85"/>
<rect x="720.90" y="682.8" width="20" height="11.5" fill="#3274D9" fill-opacity="0.8" stroke="#3274D9" stroke-width="1" stroke-opacity="0.9"/>
<rect x="742.58" y="680.5" width="20" height="13.8" fill="#A352CC" fill-opacity="0.8" stroke="#A352CC" stroke-width="1" stroke-opacity="0.9"/>
<rect x="763.76" y="693.2" width="21" height="1.1" fill="#705DA0" fill-opacity="0.85"/>
<text x="698.4" y="710.6" text-anchor="middle" class="bx">Settimana 50</text>
<rect x="878.50" y="511.5" width="20" height="182.8" fill="#56A64B" fill-opacity="0.8" stroke="#56A64B" stroke-width="1" stroke-opacity="0.9"/>
<rect x="899.68" y="693.4" width="21" height="0.9" fill="#E0B400" fill-opacity="0.85"/>
<rect x="921.36" y="692.0" width="21" height="2.3" fill="#5794F2" fill-opacity="0.85"/>
<rect x="943.54" y="610.5" width="20" height="83.8" fill="#FA6400" fill-opacity="0.8" stroke="#FA6400" stroke-width="1" stroke-opacity="0.9"/>
<rect x="965.22" y="691.2" width="20" height="3.1" fill="#E02F44" fill-opacity="0.8" stroke="#E02F44" stroke-width="1" stroke-opacity="0.9"/>
<rect x="986.90" y="671.2" width="20" height="23.1" fill="#3274D9" fill-opacity="0.8" stroke="#3274D9" stroke-width="1" stroke-opacity="0.9"/>
<rect x="1008.58" y="665.8" width="20" height="28.5" fill="#A352CC" fill-opacity="0.8" stroke="#A352CC" stroke-width="1" stroke-opacity="0.9"/>
<rect x="1029.76" y="693.3" width="21" height="1.0" fill="#705DA0" fill-opacity="0.85"/>
<text x="964.4" y="710.6" text-anchor="middle" class="bx">Settimana 51</text>
<rect x="1143.50" y="560.8" width="20" height="133.5" fill="#56A64B" fill-opacity="0.8" stroke="#56A64B" stroke-width="1" stroke-opacity="0.9"/>
<rect x="1164.68" y="693.4" width="21" height="0.9" fill="#E0B400" fill-opacity="0.85"/>
<rect x="1186.36" y="692.8" width="21" height="1.5" fill="#5794F2" fill-opacity="0.85"/>
<rect x="1208.54" y="602.5" width="20" height="91.8" fill="#FA6400" fill-opacity="0.8" stroke="#FA6400" stroke-width="1" stroke-opacity="0.9"/>
<rect x="1229.72" y="693.0" width="21" height="1.3" fill="#E02F44" fill-opacity="0.85"/>
<rect x="1251.40" y="692.4" width="21" height="1.9" fill="#3274D9" fill-opacity="0.85"/>
<rect x="1273.58" y="691.5" width="20" height="2.8" fill="#A352CC" fill-opacity="0.8" stroke="#A352CC" stroke-width="1" stroke-opacity="0.9"/>
<rect x="1294.76" y="693.4" width="21" height="0.9" fill="#705DA0" fill-opacity="0.85"/>
<text x="1229.4" y="710.6" text-anchor="middle" class="bx">Settimana 52</text>
<rect x="63" y="725.0" width="9.4" height="3.1" rx="1.5" fill="#56A64B"/>
<text x="77.5" y="728.7" class="lg" textLength="12.5">CO</text>
<rect x="97.5" y="725.0" width="9.4" height="3.1" rx="1.5" fill="#E0B400"/>
<text x="111.75" y="728.7" class="lg" textLength="12.5">NO</text>
<rect x="132.0" y="725.0" width="9.4" height="3.1" rx="1.5" fill="#5794F2"/>
<text x="146.9" y="728.7" class="lg" textLength="17.1">NO2</text>
<rect x="171.2" y="725.0" width="9.4" height="3.1" rx="1.5" fill="#FA6400"/>
<text x="186.1" y="728.7" class="lg" textLength="11.6">O3</text>
<rect x="205.0" y="725.0" width="9.4" height="3.1" rx="1.5" fill="#E02F44"/>
<text x="220.0" y="728.7" class="lg" textLength="16.1">SO2</text>
<rect x="244.5" y="725.0" width="9.4" height="3.1" rx="1.5" fill="#3274D9"/>
<text x="259" y="728.7" class="lg" textLength="22.5">PM25</text>
<rect x="289.25" y="725.0" width="9.4" height="3.1" rx="1.5" fill="#A352CC"/>
<text x="303.75" y="728.7" class="lg" textLength="20.75">PM10</text>
<rect x="333" y="725.0" width="9.4" height="3.1" rx="1.5" fill="#705DA0"/>
<text x="347.5" y="728.7" class="lg" textLength="17.0">NH3</text>
</g>
</svg>
</body>
</html>
